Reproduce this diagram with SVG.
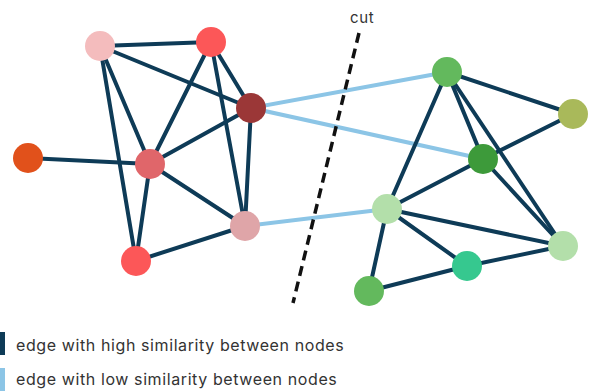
<svg xmlns="http://www.w3.org/2000/svg" width="592" height="392" viewBox="0 0 592 392">
  <style>
    .hi { stroke: #0e3b57; stroke-width: 4; stroke-linecap: round; fill: none; }
    .lo { stroke: #8cc5e6; stroke-width: 4; stroke-linecap: round; fill: none; }
    .lbl { font-family: Inter, "Liberation Sans", sans-serif; font-size: 16px; letter-spacing: 0.6px; fill: #333333; }
    .cut { stroke: #111111; stroke-width: 3.5; stroke-dasharray: 10 6; fill: none; }
  </style>
  <rect width="592" height="392" fill="#ffffff"/>

  <!-- connectors -->
  <g id="edges">
    <!-- left cluster -->
    <line class="hi" x1="100" y1="46" x2="211" y2="42"/>
    <line class="hi" x1="100" y1="46" x2="251" y2="108"/>
    <line class="hi" x1="100" y1="46" x2="150" y2="164"/>
    <line class="hi" x1="100" y1="46" x2="136" y2="261"/>
    <line class="hi" x1="211" y1="42" x2="150" y2="164"/>
    <line class="hi" x1="211" y1="42" x2="251" y2="108"/>
    <line class="hi" x1="211" y1="42" x2="245" y2="226"/>
    <line class="hi" x1="251" y1="108" x2="150" y2="164"/>
    <line class="hi" x1="251" y1="108" x2="245" y2="226"/>
    <line class="hi" x1="28" y1="158" x2="150" y2="164"/>
    <line class="hi" x1="150" y1="164" x2="136" y2="261"/>
    <line class="hi" x1="150" y1="164" x2="245" y2="226"/>
    <line class="hi" x1="136" y1="261" x2="245" y2="226"/>
    <!-- links across the cut -->
    <line class="lo" x1="251" y1="108" x2="447" y2="72"/>
    <line class="lo" x1="251" y1="108" x2="483" y2="159"/>
    <line class="lo" x1="245" y1="226" x2="387" y2="209"/>
    <!-- right cluster -->
    <line class="hi" x1="447" y1="72" x2="573" y2="114"/>
    <line class="hi" x1="447" y1="72" x2="387" y2="209"/>
    <line class="hi" x1="447" y1="72" x2="483" y2="159"/>
    <line class="hi" x1="447" y1="72" x2="563" y2="246"/>
    <line class="hi" x1="573" y1="114" x2="483" y2="159"/>
    <line class="hi" x1="483" y1="159" x2="387" y2="209"/>
    <line class="hi" x1="483" y1="159" x2="563" y2="246"/>
    <line class="hi" x1="387" y1="209" x2="563" y2="246"/>
    <line class="hi" x1="387" y1="209" x2="467" y2="266"/>
    <line class="hi" x1="387" y1="209" x2="369" y2="291"/>
    <line class="hi" x1="369" y1="291" x2="467" y2="266"/>
    <line class="hi" x1="467" y1="266" x2="563" y2="246"/>
  </g>

  <!-- cut line -->
  <g id="cut">
    <line class="cut" x1="359" y1="33" x2="293" y2="303"/>
    <text class="lbl" x="350" y="23" style="font-size:15px">cut</text>
  </g>

  <!-- nodes -->
  <g id="n1"><circle cx="100" cy="46" r="15" fill="#f4bcbd"/></g>
  <g id="n2"><circle cx="211" cy="42" r="15" fill="#fc5758"/></g>
  <g id="n3"><circle cx="251" cy="108" r="15" fill="#9b3737"/></g>
  <g id="n4"><circle cx="28" cy="158" r="15" fill="#e1511b"/></g>
  <g id="n5"><circle cx="150" cy="164" r="15" fill="#e0666a"/></g>
  <g id="n6"><circle cx="245" cy="226" r="15" fill="#dfa5a8"/></g>
  <g id="n7"><circle cx="136" cy="261" r="15" fill="#fc5758"/></g>
  <g id="n8"><circle cx="447" cy="72" r="15" fill="#63b95d"/></g>
  <g id="n9"><circle cx="573" cy="114" r="15" fill="#a9b95a"/></g>
  <g id="n10"><circle cx="483" cy="159" r="15" fill="#3d9a3a"/></g>
  <g id="n11"><circle cx="387" cy="209" r="15" fill="#b3dfaa"/></g>
  <g id="n12"><circle cx="563" cy="246" r="15" fill="#b3dfaa"/></g>
  <g id="n13"><circle cx="467" cy="266" r="15" fill="#36c88f"/></g>
  <g id="n14"><circle cx="369" cy="291" r="15" fill="#63b95d"/></g>

  <!-- legend -->
  <g id="legend">
    <rect x="0" y="332" width="5" height="23" fill="#0e3b57"/>
    <text class="lbl" x="16" y="351">edge with high similarity between nodes</text>
    <rect x="0" y="368" width="5" height="23" fill="#8cc5e6"/>
    <text class="lbl" x="16" y="385">edge with low similarity between nodes</text>
  </g>
</svg>
